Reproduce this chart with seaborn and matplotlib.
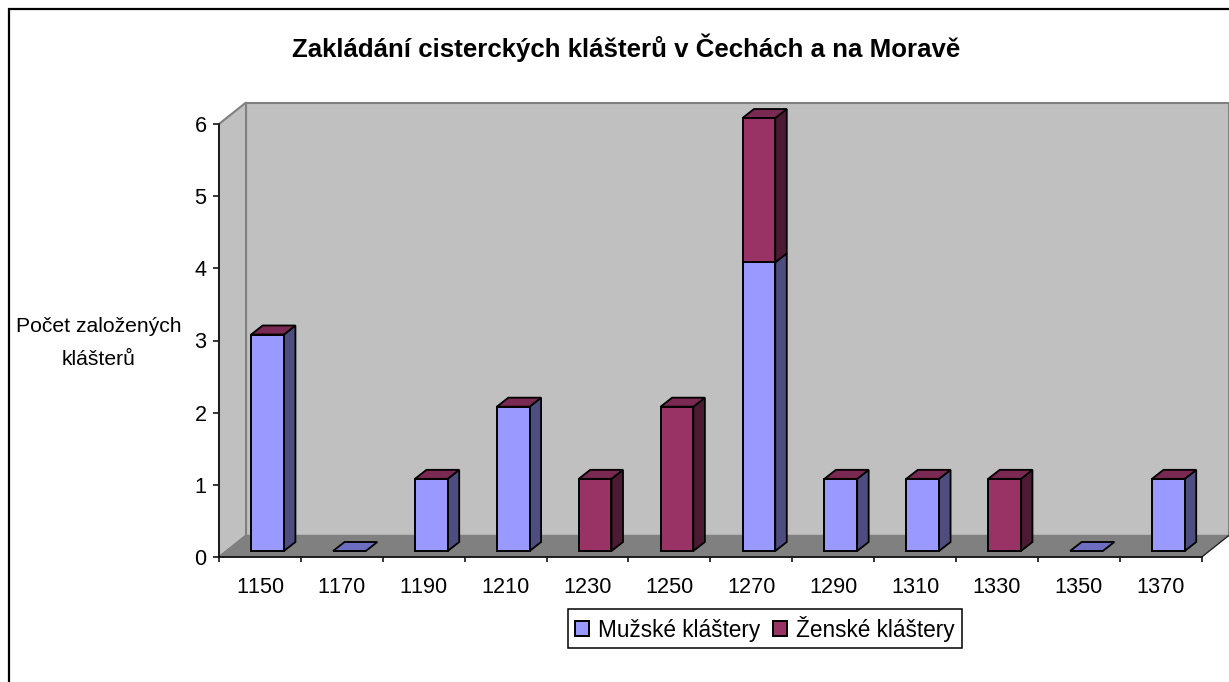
import matplotlib
matplotlib.use('Agg')
import matplotlib.pyplot as plt
import seaborn as sns
from matplotlib.patches import Rectangle

years = ['1150', '1170', '1190', '1210', '1230', '1250', '1270', '1290', '1310', '1330', '1350', '1370']
male = [3, 0, 1, 2, 0, 0, 4, 1, 1, 0, 0, 1]
female = [0, 0, 0, 0, 1, 2, 2, 0, 0, 1, 0, 0]
y_ticks = [0, 1, 2, 3, 4, 5, 6]

sns.set_theme(style='white')
plt.rcParams['font.family'] = ['Liberation Sans', 'DejaVu Sans']
plt.rcParams['text.kerning_factor'] = 6

W, H = 1229, 682
fig = plt.figure(figsize=(W / 100, H / 100), dpi=100)
ax = fig.add_axes([219 / W, (H - 557) / H, 982.7 / W, 433 / H])
ax.patch.set_alpha(0)

# outer chart frame, runs off the right and bottom of the image
fig.add_artist(Rectangle((9 / W, -0.05), 1.1, 1.05 - 8.5 / H, transform=fig.transFigure,
                         fill=False, ec='black', lw=1.6))

# stacked bars, faces are shifted into the depth afterwards
sns.barplot(x=years, y=male, color='#9999FF', width=0.4, saturation=1, errorbar=None,
            ax=ax, label='Mužské kláštery', edgecolor='black', linewidth=1.4, zorder=5)
sns.barplot(x=years, y=female, bottom=male, color='#993366', width=0.4, saturation=1, errorbar=None,
            ax=ax, label='Ženské kláštery', edgecolor='black', linewidth=1.4, zorder=5)

ax.set_xlim(-0.5, 11.5)
ax.set_ylim(0, 6)

# depth in data units
wall_dx, wall_dy = 27 / 81.9, 21.5 / 72.17
bar_fx, bar_fy = 7.6 / 81.9, 6 / 72.17
bar_dx, bar_dy = 11.5 / 81.9, 9 / 72.17

# walls and floor
x0, x1 = ax.get_xlim()
y0, y1 = ax.get_ylim()
ax.fill([x0 + wall_dx, x1 + wall_dx, x1 + wall_dx, x0 + wall_dx],
        [y0 + wall_dy, y0 + wall_dy, y1 + wall_dy, y1 + wall_dy],
        fc='#C0C0C0', ec='#808080', lw=1.5, clip_on=False, zorder=1)
ax.fill([x0, x0 + wall_dx, x0 + wall_dx, x0], [y0, y0 + wall_dy, y1 + wall_dy, y1],
        fc='#C0C0C0', ec='#808080', lw=1.5, clip_on=False, zorder=1)
ax.fill([x0, x1, x1 + wall_dx, x0 + wall_dx], [y0, y0, y0 + wall_dy, y0 + wall_dy],
        fc='#808080', ec='#808080', lw=1, clip_on=False, zorder=2)
ax.plot([x1, x1 + wall_dx], [y0, y0 + wall_dy], color='#222222', lw=0.9, clip_on=False, zorder=3)

side_colors = ['#4D4D80', '#4D1A33']
top_male = '#6E6EC0'
top_female = '#7A2952'
for c, side in zip(ax.containers, side_colors):
    for bar in c:
        bar.set_x(bar.get_x() + bar_fx)
        bar.set_y(bar.get_y() + bar_fy)
        bar.set_clip_on(False)
        if bar.get_height() == 0:
            continue
        xr = bar.get_x() + bar.get_width()
        yb, yt = bar.get_y(), bar.get_y() + bar.get_height()
        ax.fill([xr, xr + bar_dx, xr + bar_dx, xr], [yb, yb + bar_dy, yt + bar_dy, yt],
                fc=side, ec='black', lw=1.3, clip_on=False, zorder=4)

# top face of each stack
for b_m, b_f, m, f in zip(ax.containers[0], ax.containers[1], male, female):
    xl = b_m.get_x()
    xr = xl + b_m.get_width()
    yt = b_m.get_y() + m + f
    ax.fill([xl, xr, xr + bar_dx, xl + bar_dx], [yt, yt, yt + bar_dy, yt + bar_dy],
            fc=top_female if m + f > 0 else top_male, ec='black', lw=1.3, clip_on=False, zorder=4)

sns.despine(ax=ax)
for s in ['left', 'bottom']:
    ax.spines[s].set_color('black')
    ax.spines[s].set_linewidth(1.1)
    ax.spines[s].set_zorder(6)

ax.set_yticks(y_ticks)
ax.set_xticks(range(len(years)))
ax.set_xticklabels(years)
ax.set_xticks([i - 0.5 for i in range(len(years) + 1)], minor=True)
ax.tick_params(axis='x', which='major', length=0, pad=14.5, labelsize=15.6, colors='black')
ax.tick_params(axis='x', which='minor', bottom=True, length=3.6, width=1.1, color='black')
ax.tick_params(axis='y', left=True, length=4, width=1.1, pad=5, labelsize=15.6, color='black', labelcolor='black')

fig.text(626.5 / W, 1 - 48 / H, 'Zakládání cisterckých klášterů v Čechách a na Moravě',
         ha='center', va='center', fontsize=18.6, fontweight='bold', color='black')
fig.text(99 / W, 1 - 343 / H, 'Počet založených\nklášterů', ha='center', va='center',
         fontsize=15.2, color='black', linespacing=1.95)

leg = ax.legend(loc='center', bbox_to_anchor=(765 / W, 1 - 628.5 / H), bbox_transform=fig.transFigure,
                ncol=2, fontsize=16.3, frameon=True, fancybox=False, framealpha=1, edgecolor='black',
                handlelength=0.62, handleheight=0.62, handletextpad=0.4, columnspacing=0.55,
                borderpad=0.3, borderaxespad=0, labelcolor='black')
leg.get_frame().set_linewidth(1.1)

fig.savefig('out.png', dpi=100)
